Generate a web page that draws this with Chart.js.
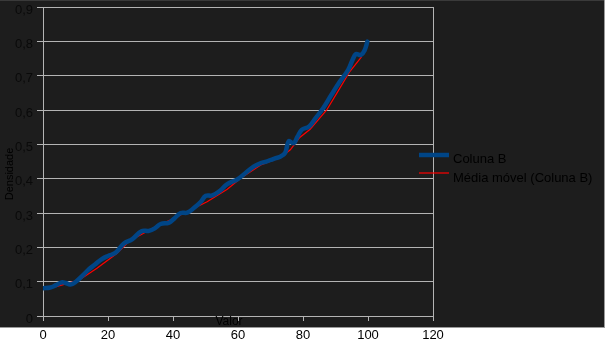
<!DOCTYPE html>
<html>
<head>
<meta charset="utf-8">
<script src="https://cdn.jsdelivr.net/npm/chart.js@4.4.1/dist/chart.umd.min.js"></script>
<style>
    html, body { margin: 0; padding: 0; background: #fff; }
    canvas { display: block; }
</style>
</head>
<body>
<canvas id="myChart" width="605" height="340"></canvas>
<script>
// Coluna B (valor / densidade)
let colunaX = [0, 2.2, 4, 5.7, 7, 8.4, 10, 12, 14, 16, 18, 20, 22.3, 24.9, 27.5, 30.3, 32.6, 34.5, 36.2, 38.8,
    40.5, 42.4, 44.4, 46.5, 48.5, 50.1, 52.1, 54.5, 56.7, 59.8, 62.5, 64.8, 66.9, 68.4, 71, 73, 74.5, 75.6, 77.1,
    78.3, 79.6, 81.9, 84, 86.2, 88.8, 91.3, 93.9, 95.3, 96.3, 97.8, 99, 99.8];
let colunaY = [0.081, 0.083, 0.090, 0.098, 0.096, 0.092, 0.099, 0.116, 0.135, 0.150, 0.165, 0.175, 0.184, 0.211,
    0.224, 0.247, 0.248, 0.256, 0.268, 0.272, 0.285, 0.300, 0.301, 0.315, 0.332, 0.350, 0.351, 0.365, 0.384, 0.398,
    0.418, 0.435, 0.445, 0.449, 0.458, 0.464, 0.475, 0.509, 0.503, 0.522, 0.542, 0.552, 0.578, 0.605, 0.645, 0.682,
    0.717, 0.747, 0.763, 0.760, 0.775, 0.799];

// Média móvel (Coluna B)
let mediaX = [3.8, 9.4, 11.5, 16.6, 22.8, 26.9, 30, 35, 40.2, 44.3, 50.5, 56.7, 60.8, 67, 73, 76.1, 79, 82.2,
    87.3, 91.3, 94.4, 98];
let mediaY = [0.085, 0.100, 0.107, 0.139, 0.183, 0.221, 0.236, 0.262, 0.284, 0.304, 0.333, 0.369, 0.401, 0.440,
    0.461, 0.484, 0.520, 0.544, 0.600, 0.663, 0.712, 0.755];

let xTickLabels = ['0', '20', '40', '60', '80', '100', '120'];
let yTickLabels = ['0', '0,1', '0,2', '0,3', '0,4', '0,5', '0,6', '0,7', '0,8', '0,9'];

const FONT = '"Liberation Sans", Arial, sans-serif';
const GRID = '#b4b4b4';

let toPoints = (xs, ys) => xs.map((x, i) => ({ x: x, y: ys[i] }));

// fundo escuro + borda
const fundo = {
    id: 'fundo',
    beforeDraw(chart) {
        const ctx = chart.ctx;
        ctx.save();
        ctx.fillStyle = '#ffffff';
        ctx.fillRect(0, 0, chart.width, chart.height);
        ctx.fillStyle = '#1d1d1d';
        ctx.fillRect(0, 0, 604, 327);
        ctx.fillStyle = '#3a3a3a';
        ctx.fillRect(0, 0, 604, 1);
        ctx.fillStyle = '#9a9a9a';
        ctx.fillRect(0, 327, 605, 1);
        ctx.fillRect(604, 0, 1, 328);
        ctx.restore();
    }
};

// títulos dos eixos e legenda
const textos = {
    id: 'textos',
    afterDraw(chart) {
        const ctx = chart.ctx;
        ctx.save();
        ctx.fillStyle = '#000';
        ctx.textAlign = 'center';
        ctx.textBaseline = 'middle';
        ctx.font = '12px ' + FONT;
        ctx.fillText('Valor', 229, 322);
        ctx.save();
        ctx.translate(10, 174);
        ctx.rotate(-Math.PI / 2);
        ctx.font = '11px ' + FONT;
        ctx.fillText('Densidade', 0, 0);
        ctx.restore();

        ctx.textAlign = 'left';
        ctx.textBaseline = 'alphabetic';
        ctx.font = '13px ' + FONT;
        chart.data.datasets.forEach(function(ds, i) {
            let y = 155 + i * 18;
            ctx.strokeStyle = ds.borderColor;
            ctx.lineWidth = ds.borderWidth;
            ctx.beginPath();
            ctx.moveTo(419, y);
            ctx.lineTo(449, y);
            ctx.stroke();
            ctx.fillText(ds.label, 453, 163 + i * 19);
        });
        ctx.restore();
    }
};

let myChart = new Chart(document.getElementById('myChart'), {
    type: 'scatter',
    data: {
        datasets: [{
            label: 'Coluna B',
            data: toPoints(colunaX, colunaY),
            showLine: true,
            borderColor: '#004586',
            borderWidth: 4.5,
            pointRadius: 0,
            tension: 0.4,
            borderCapStyle: 'round',
            borderJoinStyle: 'round'
        }, {
            label: 'Média móvel (Coluna B)',
            data: toPoints(mediaX, mediaY),
            showLine: true,
            borderColor: '#ff0000',
            borderWidth: 1.2,
            pointRadius: 0,
            tension: 0
        }]
    },
    options: {
        responsive: false,
        animation: false,
        layout: { padding: { left: 0, top: 7, right: 172, bottom: 0 } },
        plugins: {
            legend: { display: false },
            tooltip: { enabled: false }
        },
        scales: {
            x: {
                type: 'linear',
                min: 0,
                max: 120,
                ticks: {
                    stepSize: 20,
                    color: '#000',
                    padding: 7,
                    font: { family: FONT, size: 13 },
                    callback: (v, i) => xTickLabels[i]
                },
                grid: {
                    drawOnChartArea: true,
                    color: c => (c.tick && c.tick.value === 120) ? GRID : 'transparent',
                    tickColor: GRID,
                    tickLength: 5
                },
                border: { display: true, color: GRID },
                afterFit: s => { s.height = 24; s.paddingLeft = 0; s.paddingRight = 0; }
            },
            y: {
                min: 0,
                max: 0.9,
                ticks: {
                    stepSize: 0.1,
                    color: '#0a0a0a',
                    padding: 4,
                    labelOffset: 3,
                    font: { family: FONT, size: 13 },
                    callback: (v, i) => yTickLabels[i]
                },
                grid: { color: GRID, tickColor: GRID, tickLength: 6 },
                border: { display: true, color: GRID },
                afterFit: s => { s.width = 43; s.paddingTop = 0; s.paddingBottom = 0; }
            }
        }
    },
    plugins: [fundo, textos]
});
</script>
</body>
</html>
